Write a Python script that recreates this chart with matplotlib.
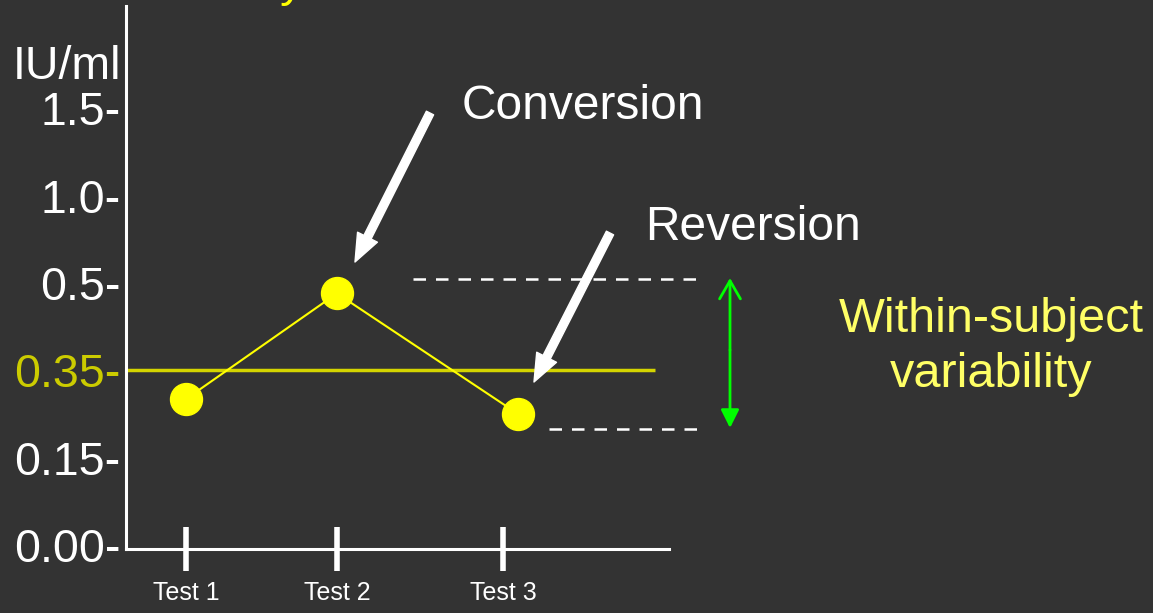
import matplotlib
matplotlib.use("Agg")
import matplotlib.pyplot as plt
import numpy as np

plt.rcParams['font.family'] = ['Liberation Sans', 'DejaVu Sans']

# y axis is not linear: tick values sit at equally spaced positions
tick_values = [0.00, 0.15, 0.35, 0.5, 1.0, 1.5]
tick_labels = ['0.00-', '0.15-', '0.35-', '0.5-', '1.0-', '1.5-']
cutoff = 0.35

tests = ['Test 1', 'Test 2', 'Test 3']
test_tick_x = [1.0, 2.0, 3.1]
test_point_x = [1.0, 2.0, 3.2]
test_values = [0.284, 0.482, 0.25]   # IU/ml

band_upper = 0.525
band_lower = 0.216

BG = '#333333'
W, H = 1153, 613


def to_pos(v):
    return np.interp(v, tick_values, np.arange(len(tick_values)))


def fy(y):
    # pixel y measured from the top -> figure pixels
    return H - y


fig = plt.figure(figsize=(W / 100, H / 100), dpi=100, facecolor=BG)
ax = fig.add_axes([126 / W, 64 / H, 543 / W, 543 / H])
ax.set_facecolor(BG)

ax.set_xlim(0.603, 4.2)
ax.set_ylim(-0.046, 6.17)

for side in ['top', 'right']:
    ax.spines[side].set_visible(False)
for side in ['left', 'bottom']:
    ax.spines[side].set_color('white')
    ax.spines[side].set_linewidth(2.2)

ax.set_yticks(np.arange(len(tick_values)))
ax.set_yticklabels(tick_labels, fontsize=33.5, color='white')
ax.get_yticklabels()[tick_values.index(cutoff)].set_color('#cccc00')
ax.tick_params(axis='y', length=0, pad=4)

ax.set_xticks(test_tick_x)
ax.set_xticklabels(tests, fontsize=18, color='white')
ax.tick_params(axis='x', direction='inout', length=32, width=4, color='white', pad=7)

# cutoff line
ax.hlines(to_pos(cutoff), 0.603, 4.106, color='#d4d400', lw=2.5, zorder=2)

# test results
ax.plot(test_point_x, to_pos(test_values), color='#ffff00', lw=1.5,
        marker='o', markersize=23, markerfacecolor='#ffff00',
        markeredgecolor='#ffff00', zorder=3)

# variability band
ax.hlines(to_pos(band_upper), 2.503, 4.404, color='white', lw=1.8,
          linestyles=(0, (5, 4)), clip_on=False)
ax.hlines(to_pos(band_lower), 3.404, 4.404, color='white', lw=1.8,
          linestyles=(0, (5, 4)), clip_on=False)

# white pointer arrows
big = dict(arrowstyle='simple,head_length=2.0,head_width=1.6,tail_width=0.58',
           color='white', mutation_scale=10, shrinkA=0, shrinkB=0)
ax.annotate('', xy=(355, fy(262)), xytext=(430, fy(113)),
            xycoords='figure pixels', textcoords='figure pixels', arrowprops=big)
ax.annotate('', xy=(534, fy(382)), xytext=(610, fy(233)),
            xycoords='figure pixels', textcoords='figure pixels', arrowprops=big)

# green double arrow
ax.annotate('', xy=(730, fy(278)), xytext=(730, fy(350)),
            xycoords='figure pixels', textcoords='figure pixels',
            arrowprops=dict(arrowstyle='->,head_length=1.3,head_width=0.75',
                            color='#00ff00', lw=2, mutation_scale=10,
                            shrinkA=0, shrinkB=0))
ax.annotate('', xy=(730, fy(428)), xytext=(730, fy(350)),
            xycoords='figure pixels', textcoords='figure pixels',
            arrowprops=dict(arrowstyle='-|>,head_length=1.1,head_width=0.55',
                            color='#00ff00', lw=2, mutation_scale=10,
                            shrinkA=0, shrinkB=0))

# texts
fig.text(121 / W, fy(79) / H, 'IU/ml', fontsize=33.5, color='white',
         ha='right', va='baseline')
fig.text(462 / W, fy(106) / H, 'Conversion', fontsize=34.5, color='white',
         ha='left', va='center')
fig.text(645 / W, fy(228) / H, 'Reversion', fontsize=34.5, color='white',
         ha='left', va='center')
fig.text(991 / W, fy(347) / H, 'Within-subject\nvariability', fontsize=35,
         color='#ffff66', ha='center', va='center', linespacing=1.3)
fig.text(305 / W, fy(-4) / H, 'Variability', fontsize=34, color='#ffff00',
         ha='right', va='baseline')

fig.savefig('out.png', dpi=100, facecolor=BG)
